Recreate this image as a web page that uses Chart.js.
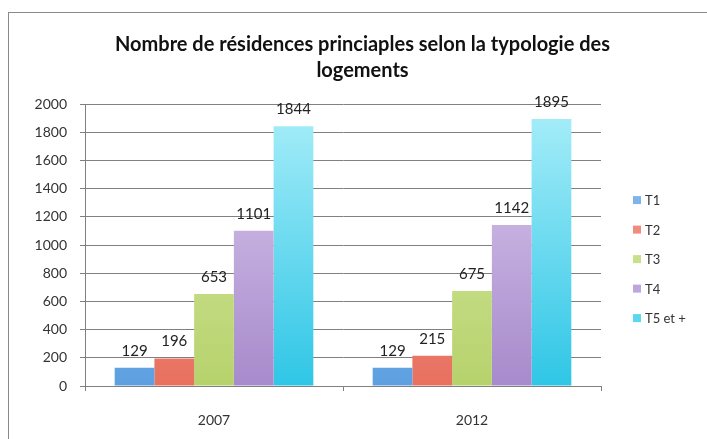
<!DOCTYPE html>
<html>
<head>
<meta charset="utf-8">
<script src="https://cdn.jsdelivr.net/npm/chart.js@4/dist/chart.umd.min.js"></script>
<style>
    html, body { margin: 0; padding: 0; background: #fff; overflow: hidden; width: 707px; height: 439px; }
    #cadre {
        position: absolute; left: 0; top: 0; width: 725px; height: 439px;
    }
    #bord {
        position: absolute; left: 8px; top: 12px; width: 720px; height: 460px;
        border-left: 1px solid #8a8a8a; border-top: 1px solid #8a8a8a;
    }
</style>
</head>
<body>
<div id="bord"></div>
<div id="cadre"><canvas id="grafico"></canvas></div>
<script>
// Données du graphique
const annees = ['2007', '2012'];
const typologies = ['T1', 'T2', 'T3', 'T4', 'T5 et +'];
const valeursT1 = [129, 129];
const valeursT2 = [196, 215];
const valeursT3 = [653, 675];
const valeursT4 = [1101, 1142];
const valeursT5 = [1844, 1895];
const graduations = [0, 200, 400, 600, 800, 1000, 1200, 1400, 1600, 1800, 2000];

// Couleurs (haut clair, bas foncé) + couleur de la légende
const couleurs = [
    ['#9fcdf4', '#5d9fe0', '#7db5ea'],
    ['#f8a79c', '#e8705f', '#ef8c7e'],
    ['#dcecaa', '#b6d26c', '#c8e08a'],
    ['#dccdf0', '#a78acb', '#bda6dd'],
    ['#a9eef9', '#2fc6e6', '#5ad6ef']
];

function degrade(i) {
    return function(context) {
        const chart = context.chart;
        const zone = chart.chartArea;
        if (!zone) return couleurs[i][1];
        const g = chart.ctx.createLinearGradient(0, zone.top, 0, zone.bottom);
        g.addColorStop(0, couleurs[i][0]);
        g.addColorStop(1, couleurs[i][1]);
        return g;
    };
}

const series = [valeursT1, valeursT2, valeursT3, valeursT4, valeursT5];

// Étiquettes au-dessus des barres
const etiquettes = {
    id: 'etiquettes',
    afterDatasetsDraw(chart) {
        const ctx = chart.ctx;
        ctx.save();
        ctx.font = '15px Lato';
        ctx.fillStyle = '#222';
        ctx.textAlign = 'center';
        ctx.textBaseline = 'middle';
        chart.data.datasets.forEach((ds, i) => {
            chart.getDatasetMeta(i).data.forEach((barre, j) => {
                ctx.fillText(ds.data[j], barre.x, barre.y - 17);
            });
        });
        ctx.restore();
    }
};

// Légende à droite, façon Excel
const legende = {
    id: 'legende',
    afterDraw(chart) {
        const ctx = chart.ctx;
        const x = chart.chartArea.right + 32;
        const yMilieu = (chart.chartArea.top + chart.chartArea.bottom) / 2 + 14;
        const pas = 29.5;
        const n = chart.data.datasets.length;
        ctx.save();
        ctx.font = '13px Lato';
        ctx.textAlign = 'left';
        ctx.textBaseline = 'middle';
        chart.data.datasets.forEach((ds, i) => {
            const y = yMilieu + (i - (n - 1) / 2) * pas;
            ctx.fillStyle = couleurs[i][2];
            ctx.fillRect(x, y - 4, 8, 8);
            ctx.fillStyle = '#333';
            ctx.fillText(ds.label, x + 12, y + 1);
        });
        ctx.restore();
    }
};

new Chart(document.getElementById('grafico'), {
    type: 'bar',
    data: {
        labels: annees,
        datasets: typologies.map((t, i) => ({
            label: t,
            data: series[i],
            backgroundColor: degrade(i),
            borderWidth: 0,
            categoryPercentage: 0.77,
            barPercentage: 1
        }))
    },
    options: {
        responsive: true,
        maintainAspectRatio: false,
        animation: false,
        layout: { padding: 0 },
        plugins: {
            title: {
                display: true,
                text: ['Nombre de résidences princiaples selon la typologie des', 'logements'],
                color: '#111',
                font: { family: 'Lato', size: 20, weight: 'bold', lineHeight: 1.28 },
                padding: { top: 32, bottom: 21 }
            },
            legend: { display: false },
            tooltip: { enabled: false }
        },
        scales: {
            x: {
                offset: true,
                grid: { drawOnChartArea: false, offset: true, tickLength: 5, color: '#808080' },
                border: { color: '#808080' },
                ticks: { color: '#333', padding: 21, font: { family: 'Lato', size: 14 } },
                afterFit: function(scale) { scale.height = 53; }
            },
            y: {
                min: 0,
                max: 2000,
                afterBuildTicks: function(scale) {
                    scale.ticks = graduations.map(v => ({ value: v }));
                },
                grid: { color: '#808080', tickLength: 5 },
                border: { color: '#808080' },
                ticks: {
                    color: '#333',
                    padding: 13,
                    font: { family: 'Lato', size: 14 },
                    callback: function(v) { return String(v); }
                },
                afterFit: function(scale) { scale.width = 85; }
            },
            // espace réservé à la légende
            reserveLegende: {
                position: 'right',
                grid: { display: false },
                border: { display: false },
                ticks: { display: false },
                afterFit: function(scale) { scale.width = 124; }
            }
        }
    },
    plugins: [etiquettes, legende]
});
</script>
</body>
</html>
